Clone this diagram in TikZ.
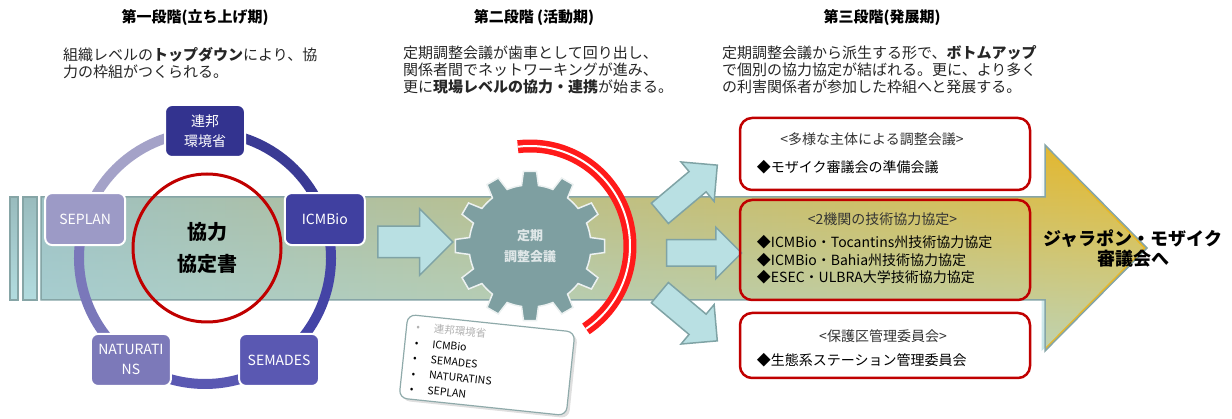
\documentclass[tikz,border=0pt]{standalone}
\usepackage{fontspec}
\setmainfont{Noto Sans CJK JP}
\usetikzlibrary{positioning,calc,shapes.arrows,fadings,shadows}

\definecolor{bandteal}{HTML}{99BBBD}
\definecolor{bandgold}{HTML}{EAB823}
\definecolor{bandlight}{HTML}{B2DCDF}
\definecolor{bandline}{HTML}{86A5A6}
\definecolor{arrowfill}{HTML}{B9E0E3}
\definecolor{arrowline}{HTML}{7FA3A5}
\definecolor{boxred}{HTML}{C00000}
\definecolor{arcred}{HTML}{FF1A1A}
\definecolor{gearfill}{HTML}{7E9FA1}
\definecolor{cardline}{HTML}{8FAAAA}
\definecolor{orgA}{HTML}{33338F}
\definecolor{orgB}{HTML}{4040A0}
\definecolor{orgC}{HTML}{5A58B2}
\definecolor{orgD}{HTML}{7C79B9}
\definecolor{orgE}{HTML}{9C9AC6}
\definecolor{ringA}{HTML}{3A3A94}
\definecolor{ringB}{HTML}{4444A6}
\definecolor{ringC}{HTML}{5A58B2}
\definecolor{ringD}{HTML}{7A78BA}
\definecolor{ringE}{HTML}{A4A2C8}

% band of the three stages, with its head on the right
\newcommand\bandpath{(41,-197) -- (1045,-197) -- (1045,-145) -- (1147,-248) -- (1045,-351) -- (1045,-300) -- (41,-300) -- cycle}

\tikzset{
  stagehead/.style={font=\bfseries\fontsize{15}{17}\selectfont},
  stagetext/.style={anchor=north west, align=left, inner sep=0pt, text=black!85, font=\fontsize{15}{17}\selectfont},
  orgbox/.style={draw=white, line width=2pt, rounded corners=7pt, minimum width=80pt, minimum height=52pt,
    align=center, text=white, inner sep=2pt, font=\fontsize{14}{20}\selectfont},
  ringline/.style={line width=10pt},
  flowarrow/.style={single arrow, draw=arrowline, fill=arrowfill, line width=1.5pt, inner xsep=0pt, inner ysep=12.5pt,
    single arrow head extend=12.5pt, minimum height=75pt},
  resultbox/.style={draw=boxred, line width=2.5pt, rounded corners=12pt, minimum width=290pt},
  boxtitle/.style={inner sep=0pt, text=black!80, font=\fontsize{14}{16}\selectfont},
  boxitem/.style={anchor=west, align=left, inner sep=0pt, font=\fontsize{14}{17.5}\selectfont},
}

\begin{document}
\begin{tikzpicture}[x=1pt,y=1pt]
\useasboundingbox (0,0) rectangle (1232,-419);

% band
\foreach \l/\r in {10/18, 23/37}
  \draw[bandline, line width=1.5pt, top color=bandteal, bottom color=bandlight] (\l,-197) rectangle (\r,-300);
\shade[left color=bandteal, right color=bandgold] \bandpath;
\fill[bandlight, path fading=north, fill opacity=0.75] \bandpath;
\draw[bandline, line width=1.5pt] \bandpath;

% stage headings
\node[stagehead] (head1) at (195,-18) {第一段階(立ち上げ期)};
\node[stagehead] (head2) at (534,-18) {第二段階 (活動期)};
\node[stagehead] (head3) at (882,-18) {第三段階(発展期)};

\node[stagetext] (text1) at (63,-47.5) {組織レベルの{\bfseries トップダウン}により、協\\力の枠組がつくられる。};
\node[stagetext] (text2) at (403,-45.5) {定期調整会議が歯車として回り出し、\\関係者間でネットワーキングが進み、\\更に{\bfseries 現場レベルの協力・連携}が始まる。};
\node[stagetext] (text3) at (722,-45.5) {定期調整会議から派生する形で、{\bfseries ボトムアップ}\\で個別の協力協定が結ばれる。更に、より多く\\の利害関係者が参加した枠組へと発展する。};

% stage 1: ring of the five bodies
\coordinate (ring) at (205,-258);
\foreach \from/\to/\col in {90/18/ringA, 18/-54/ringB, -54/-126/ringC, -126/-198/ringD, -198/-270/ringE}
  \draw[ringline, draw=\col] ($(ring)+(\from:126pt)$) arc[start angle=\from, end angle=\to, radius=126pt];

\node[orgbox, fill=orgA] (moe) at ($(ring)+(90:127pt)$) {連邦\\環境省};
\node[orgbox, fill=orgB] (icmbio) at ($(ring)+(18:126pt)$) {ICMBio};
\node[orgbox, fill=orgC] (semades) at ($(ring)+(-54:126pt)$) {SEMADES};
\node[orgbox, fill=orgD] (naturatins) at ($(ring)+(-126:126pt)$) {NATURATI\\NS};
\node[orgbox, fill=orgE] (seplan) at ($(ring)+(162:126pt)$) {SEPLAN};

\node[circle, draw=boxred, line width=3pt, minimum size=148pt, align=center,
  font=\bfseries\fontsize{20}{32}\selectfont] (pact) at (207,-248) {協力\\協定書};

\node[flowarrow, inner ysep=15pt, single arrow head extend=17.5pt] (push) at (407.5,-242) {};

% stage 2: the gear of the meeting
\coordinate (gc) at (530,-246);
\filldraw[fill=gearfill, draw=white!85!gearfill, line width=1.5pt]
  ($(gc)+(-8:61pt)$)
  \foreach \a in {0,30,...,330}{
    -- ($(gc)+({\a-5}:75pt)$) -- ($(gc)+({\a+5}:75pt)$) -- ($(gc)+({\a+8}:61pt)$)
    arc[start angle=\a+8, end angle=\a+22, radius=61pt]
  } -- cycle;
\node[align=center, text=white!75!gearfill, font=\bfseries\fontsize{13}{21}\selectfont] (meeting) at (gc) {定期\\調整会議};

\draw[arcred, double=white, double distance=2pt, line width=5.5pt]
  ($(gc)+(97:100pt)$) arc[start angle=97, end angle=-56, radius=100pt];

\node[draw=cardline, line width=1.2pt, fill=white, rounded corners=8pt, drop shadow={opacity=0.25},
  minimum width=168pt, minimum height=84pt, text width=148pt, align=left, rotate=-6,
  font=\fontsize{10.5}{15.5}\selectfont] (members) at (487,-365)
  {\textcolor{black!30}{•\hspace{14pt}連邦環境省}\\
   •\hspace{14pt}ICMBio\\
   •\hspace{14pt}SEMADES\\
   •\hspace{14pt}NATURATINS\\
   •\hspace{14pt}SEPLAN};

% stage 3: three branches
\node[flowarrow, rotate=40] (upward) at (683.5,-193.5) {};
\node[flowarrow] (spread) at (697.5,-253) {};
\node[flowarrow, rotate=-40] (downward) at (683.5,-312.5) {};

\node[resultbox, fill=white, minimum height=72pt] (forum) at (885,-154) {};
\node[boxtitle] (forumtitle) at ([xshift=-13pt,yshift=-22pt]forum.north) {<多様な主体による調整会議>};
\node[boxitem] (forumitem) at ([xshift=18pt,yshift=-13pt]forum.west) {◆モザイク審議会の準備会議};

\node[resultbox, minimum height=100pt] (pacts) at (885,-250) {};
\node[boxtitle] (pactstitle) at ([xshift=-2.5pt,yshift=-20pt]pacts.north) {<2機関の技術協力協定>};
\node[boxitem] (pactsitem) at ([xshift=18pt,yshift=-10pt]pacts.west)
  {◆ICMBio・Tocantins州技術協力協定\\◆ICMBio・Bahia州技術協力協定\\◆ESEC・ULBRA大学技術協力協定};

\node[resultbox, fill=white, minimum height=65pt] (councils) at (885,-345.5) {};
\node[boxtitle] (councilstitle) at ([xshift=-2pt,yshift=-24pt]councils.north) {<保護区管理委員会>};
\node[boxitem] (councilsitem) at ([xshift=18pt,yshift=-14.5pt]councils.west) {◆生態系ステーション管理委員会};

\node[align=center, font=\bfseries\fontsize{18}{20}\selectfont] (goal) at (1133,-249) {ジャラポン・モザイク\\審議会へ};
\end{tikzpicture}
\end{document}
